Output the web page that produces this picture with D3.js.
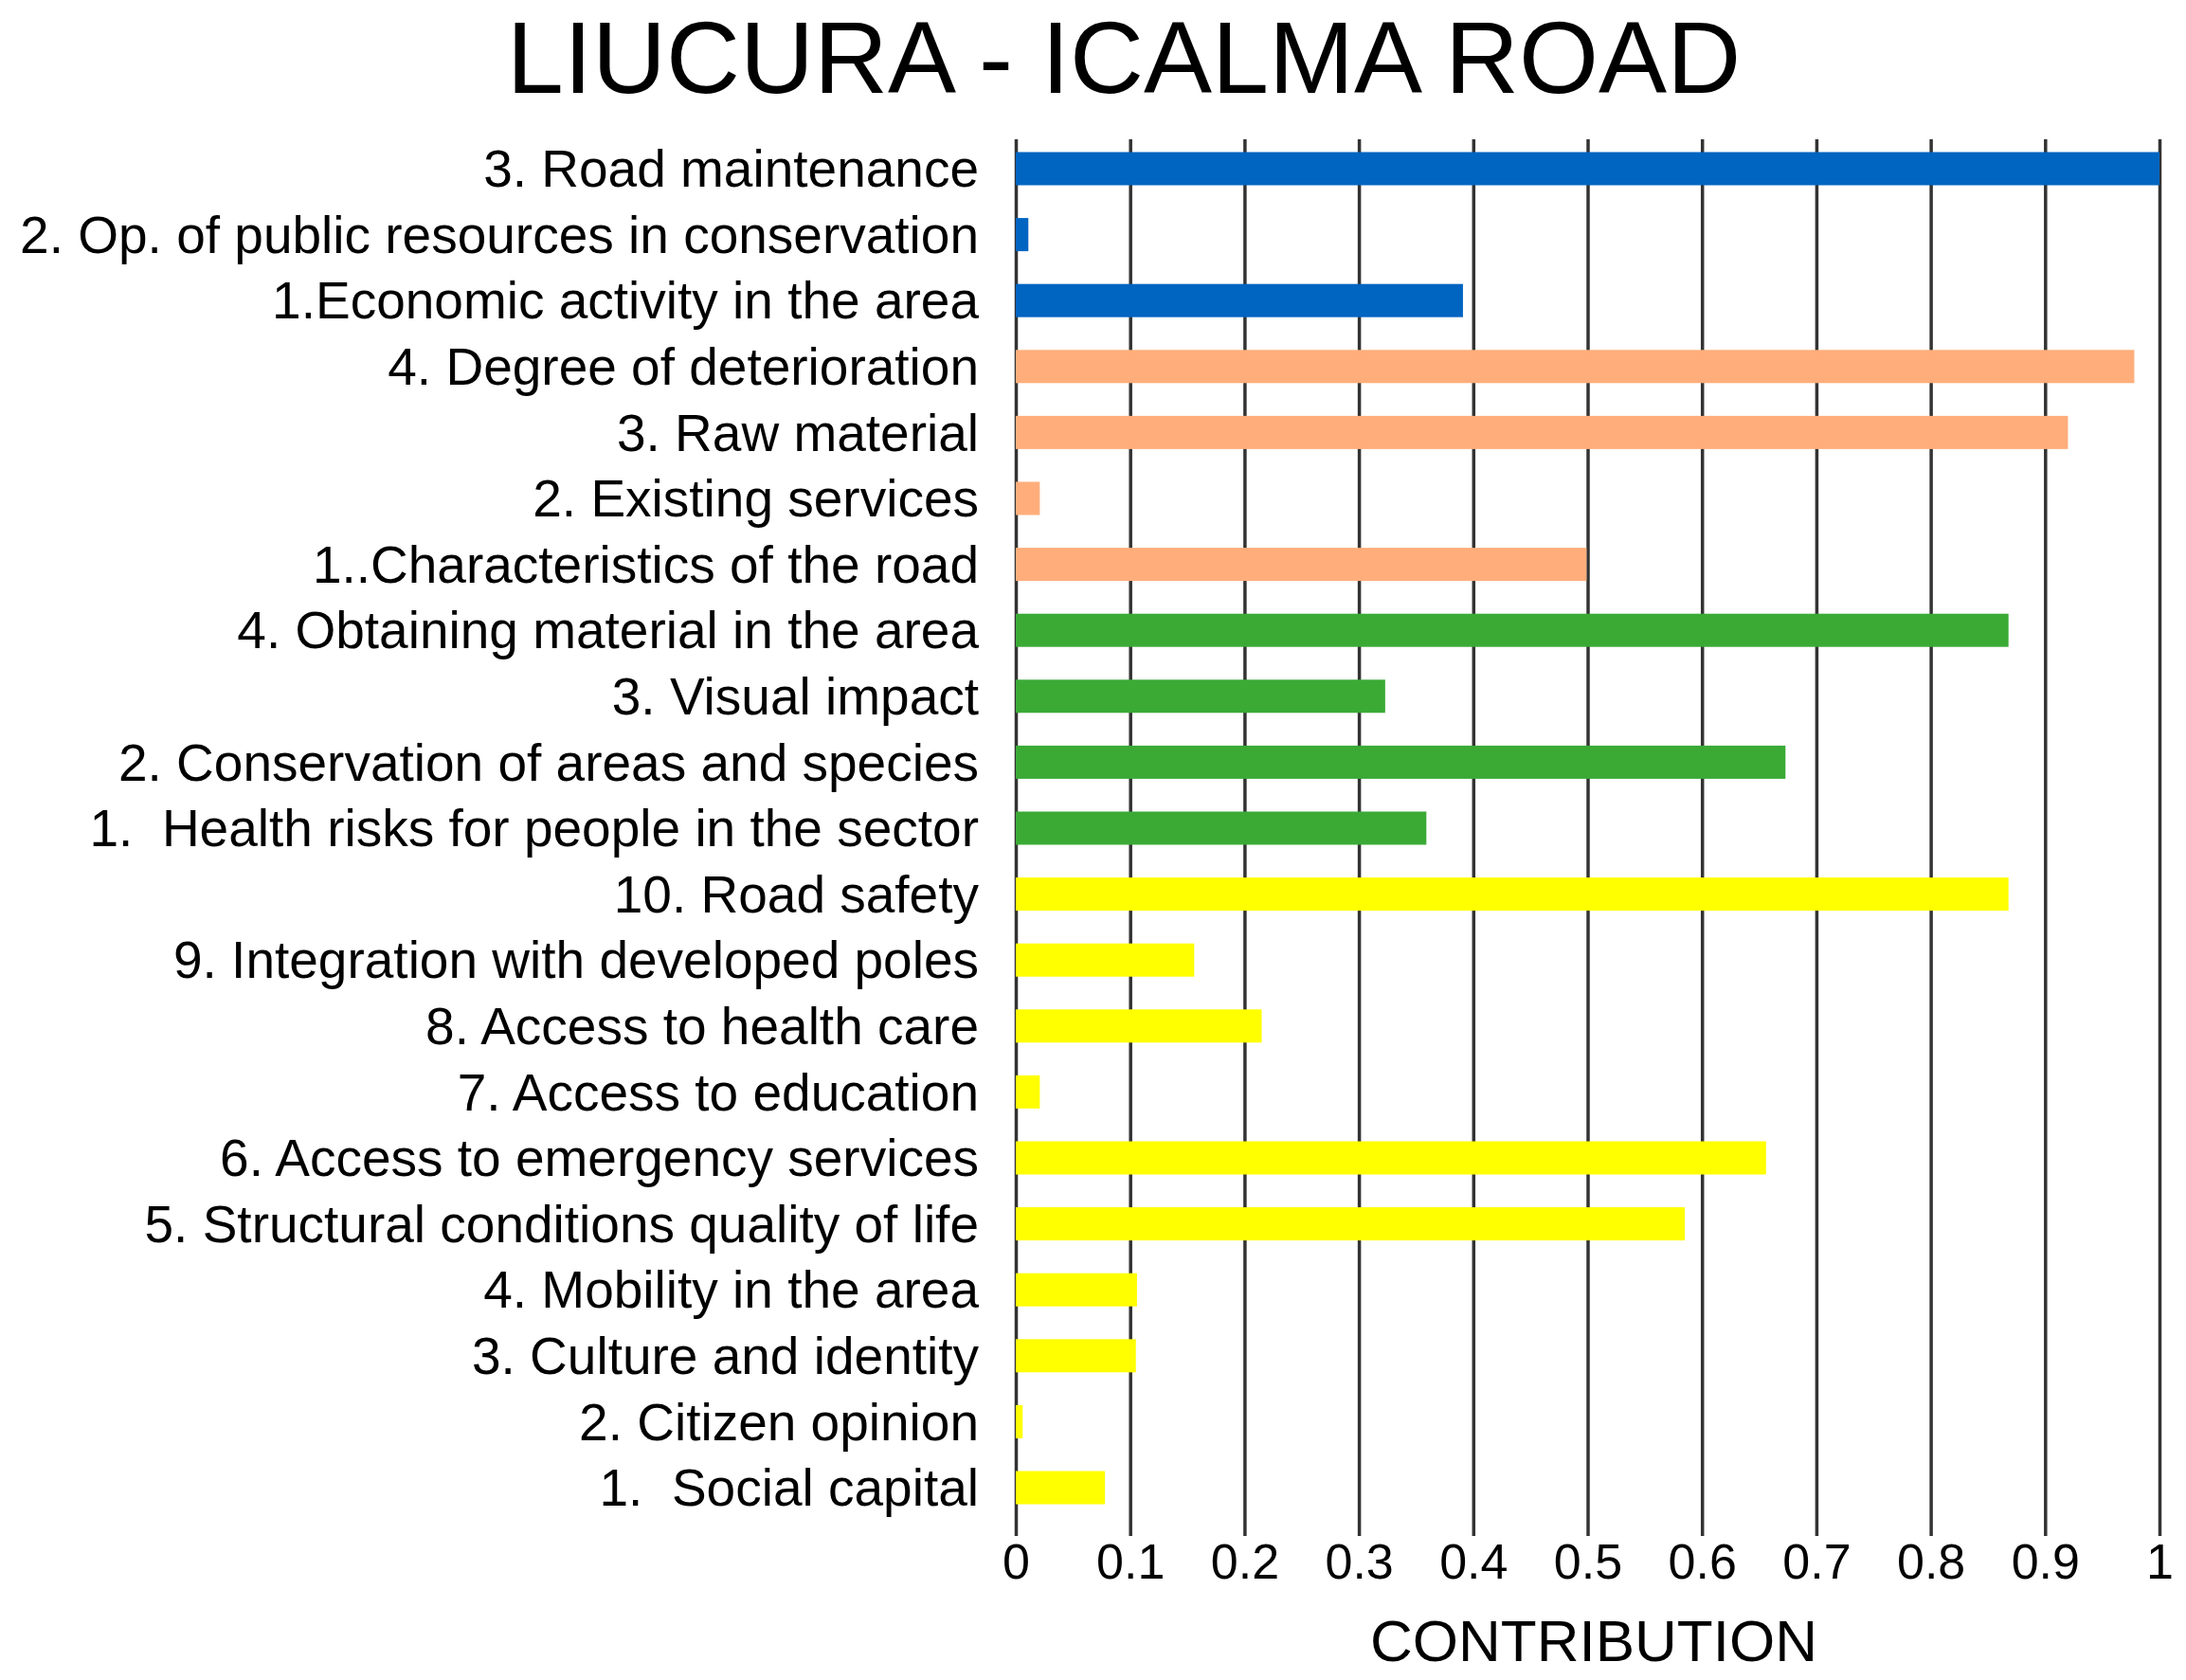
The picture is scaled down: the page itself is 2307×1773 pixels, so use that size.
<!DOCTYPE html>
<html>
<head>
<meta charset="utf-8">
<script src="https://cdn.jsdelivr.net/npm/d3@7"></script>
<style>
  body{margin:0;background:#fff;}
  text{font-family:"Liberation Sans",Arial,sans-serif;fill:#000;}
</style>
</head>
<body>
<svg></svg>
<script>
var labels = [
  "3. Road maintenance",
  "2. Op. of public resources in conservation",
  "1.Economic activity in the area",
  "4. Degree of deterioration",
  "3. Raw material",
  "2. Existing services",
  "1..Characteristics of the road",
  "4. Obtaining material in the area",
  "3. Visual impact",
  "2. Conservation of areas and species",
  "1.  Health risks for people in the sector",
  "10. Road safety",
  "9. Integration with developed poles",
  "8. Access to health care",
  "7. Access to education",
  "6. Access to emergency services",
  "5. Structural conditions quality of life",
  "4. Mobility in the area",
  "3. Culture and identity",
  "2. Citizen opinion",
  "1.  Social capital"
];
var values = [1.0, 0.011, 0.391, 0.978, 0.92, 0.021, 0.499, 0.868, 0.323, 0.673, 0.359,
              0.868, 0.156, 0.215, 0.021, 0.656, 0.585, 0.106, 0.105, 0.006, 0.078];
var groups = ["econ","econ","econ","tech","tech","tech","tech","env","env","env","env",
              "soc","soc","soc","soc","soc","soc","soc","soc","soc","soc"];
var groupColors = {econ:"#0064c1", tech:"#ffae7b", env:"#3aaa35", soc:"#ffff00"};
var tickValues = [0,0.1,0.2,0.3,0.4,0.5,0.6,0.7,0.8,0.9,1];
var title = "LIUCURA - ICALMA ROAD";
var xTitle = "CONTRIBUTION";

function makeChart(){
  var width = 2307;
  var height = 1773;
  var margin = {top:147, bot:1621, left:1072, right:2279};
  var svg = d3.select("svg")
              .attr("width",width)
              .attr("height",height);

  var xScale = d3.scaleLinear()
                 .domain([0,1])
                 .range([margin.left,margin.right]);
  var yScale = d3.scalePoint()
                 .domain(labels)
                 .range([178,1570]);

  // gridlines + tick labels
  var xAxis = d3.axisBottom()
                .scale(xScale)
                .tickValues(tickValues)
                .tickFormat(function(d){return d3.format("")(d);})
                .tickSize(-(margin.bot-margin.top))
                .tickPadding(8);
  var g = svg.append("g")
             .attr("transform","translate(0,"+margin.bot+")")
             .call(xAxis);
  g.select(".domain").remove();
  g.selectAll(".tick line")
   .attr("stroke","#333")
   .attr("stroke-width",3.5);
  g.selectAll(".tick text")
   .style("font-size","52px")
   .attr("fill","#000");

  var data = labels.map(function(d,i){
    return {label:d, value:values[i], group:groups[i]};
  });

  svg.selectAll("rect.bar")
     .data(data)
     .enter()
     .append("rect")
     .attr("class","bar")
     .attr("x",xScale(0))
     .attr("y",function(d){return yScale(d.label)-17.5;})
     .attr("width",function(d){return xScale(d.value)-xScale(0);})
     .attr("height",35)
     .attr("fill",function(d){return groupColors[d.group];});

  svg.selectAll("text.lab")
     .data(data)
     .enter()
     .append("text")
     .attr("class","lab")
     .attr("x",1033)
     .attr("y",function(d){return yScale(d.label);})
     .attr("dy","0.35em")
     .attr("text-anchor","end")
     .style("font-size","55px")
     .style("white-space","pre")
     .text(function(d){return d.label;});

  svg.append("text")
     .attr("x",1186)
     .attr("y",98)
     .attr("text-anchor","middle")
     .style("font-size","108px")
     .text(title);

  svg.append("text")
     .attr("x",1682)
     .attr("y",1753)
     .attr("text-anchor","middle")
     .style("font-size","62px")
     .text(xTitle);
}

makeChart();
</script>
</body>
</html>
